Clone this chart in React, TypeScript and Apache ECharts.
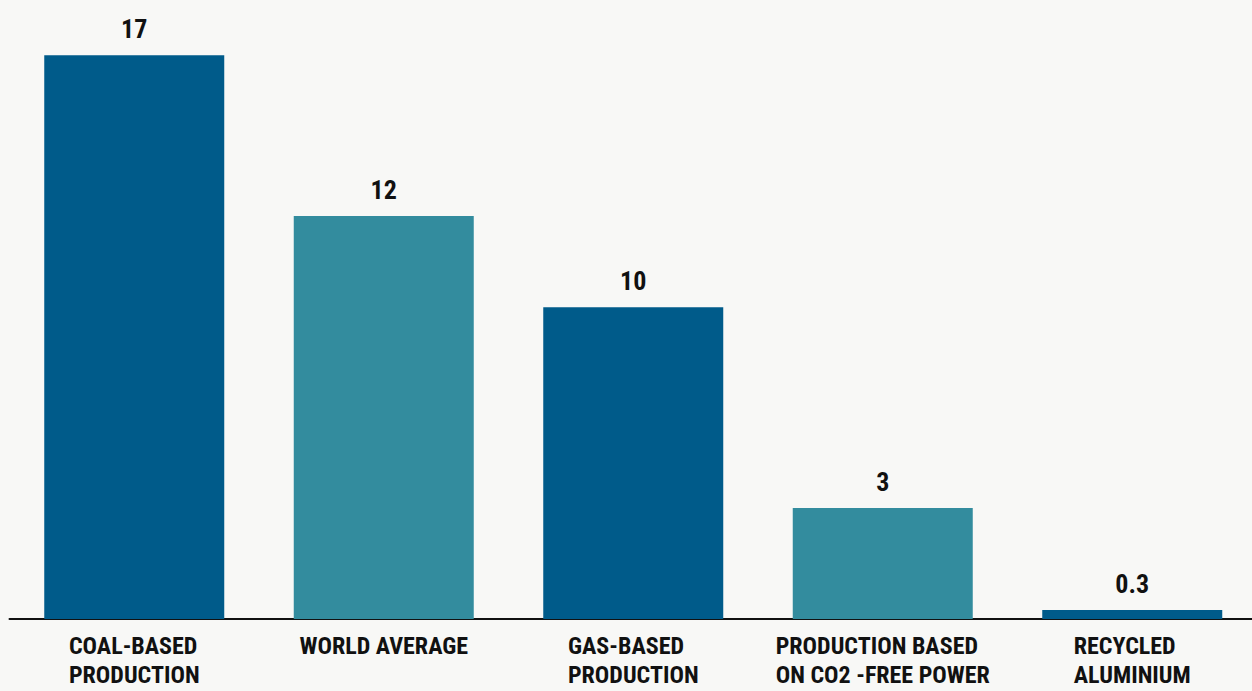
import React, { useEffect, useRef } from "react";
import * as echarts from "echarts";

const categories = [
  "COAL-BASED\nPRODUCTION",
  "WORLD AVERAGE",
  "GAS-BASED\nPRODUCTION",
  "PRODUCTION BASED\nON CO2 -FREE POWER",
  "RECYCLED\nALUMINIUM",
];
const values = [17, 12.15, 9.4, 3.35, 0.27];
const valueLabels = ["17", "12", "10", "3", "0.3"];
const barColors = ["#005B8A", "#338C9E", "#005B8A", "#338C9E", "#005B8A"];

const FONT = "'Roboto Condensed', 'Liberation Sans Narrow', 'DejaVu Sans Condensed', sans-serif";

export default function App() {
  const ref = useRef<HTMLDivElement>(null);
  useEffect(() => {
    document.body.style.margin = "0";
    const chart = echarts.init(ref.current!, null, { renderer: "svg" });
    chart.setOption({
      animation: false,
      backgroundColor: "#F8F8F6",
      grid: {
        left: 9.5,
        width: 1247.5,
        top: 22,
        height: 597,
        containLabel: false,
        outerBoundsMode: "none",
      },
      xAxis: {
        type: "category",
        data: categories,
        axisLine: { show: true, lineStyle: { color: "#111", width: 2 } },
        axisTick: { show: false },
        axisLabel: {
          interval: 0,
          margin: 12,
          formatter: (v: string) =>
            v.split("\n").map((l) => "{a|" + l + "}").join("\n"),
          rich: {
            a: {
              align: "left",
              fontFamily: FONT,
              fontWeight: "bold",
              fontSize: 24,
              lineHeight: 29,
              color: "#111",
            },
          },
        },
      },
      yAxis: {
        type: "value",
        min: 0,
        max: 18,
        show: false,
        splitLine: { show: false },
      },
      series: [
        {
          type: "bar",
          barWidth: 180,
          data: values.map((v, i) => ({ value: v, itemStyle: { color: barColors[i] } })),
          label: {
            show: true,
            position: "top",
            distance: 13,
            formatter: (p: any) => valueLabels[p.dataIndex],
            fontFamily: FONT,
            fontWeight: "bold",
            fontSize: 26,
            color: "#111",
          },
        },
      ],
    });
    return () => chart.dispose();
  }, []);
  return <div ref={ref} style={{ width: 1252, height: 691 }} />;
}
